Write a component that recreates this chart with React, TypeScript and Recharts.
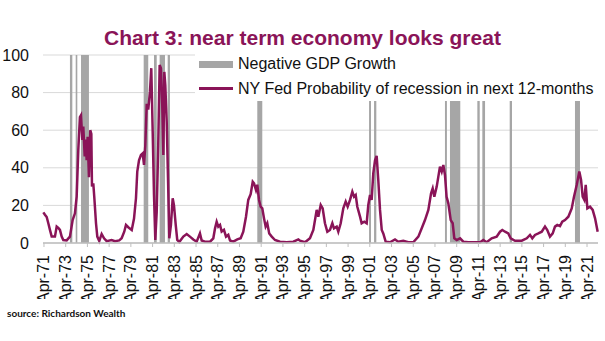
import React from "react";
import {
  ComposedChart,
  Line,
  XAxis,
  YAxis,
  CartesianGrid,
  ReferenceArea,
  Legend,
} from "recharts";

// Decimal-year position of each reading (monthly data)
const dates: number[] = [
  1971.19, 1971.34, 1971.5, 1971.65, 1971.8, 1971.96, 1972.26, 1972.42, 1972.57, 1972.72,
  1972.88, 1973.03, 1973.34, 1973.64, 1973.89, 1974.1, 1974.26, 1974.41, 1974.56, 1974.66,
  1974.78, 1974.87, 1975.0, 1975.09, 1975.18, 1975.27, 1975.39, 1975.51, 1975.61, 1975.67,
  1975.79, 1975.88, 1976.04, 1976.16, 1976.34, 1976.56, 1976.78, 1977.02, 1977.48, 1977.79,
  1978.18, 1978.4, 1978.64, 1978.8, 1979.01, 1979.33, 1979.54, 1979.72, 1979.84, 1980.0,
  1980.18, 1980.34, 1980.46, 1980.58, 1980.71, 1980.85, 1981.01, 1981.13, 1981.26, 1981.38,
  1981.5, 1981.63, 1981.77, 1981.9, 1982.02, 1982.14, 1982.24, 1982.33, 1982.42, 1982.55,
  1982.67, 1982.79, 1982.94, 1983.1, 1983.22, 1983.38, 1983.52, 1983.71, 1984.08, 1984.39,
  1984.69, 1985.0, 1985.31, 1985.61, 1985.77, 1986.07, 1986.54, 1986.84, 1987.0, 1987.15,
  1987.3, 1987.46, 1987.61, 1987.82, 1988.01, 1988.22, 1988.38, 1988.68, 1989.05, 1989.36,
  1989.6, 1989.85, 1990.06, 1990.28, 1990.47, 1990.59, 1990.77, 1990.89, 1991.05, 1991.2,
  1991.35, 1991.51, 1991.66, 1991.81, 1991.99, 1992.22, 1992.52, 1992.98, 1993.6, 1994.21,
  1994.67, 1994.82, 1995.28, 1995.74, 1996.05, 1996.36, 1996.51, 1996.73, 1996.91, 1997.12,
  1997.34, 1997.58, 1997.8, 1997.95, 1998.2, 1998.35, 1998.57, 1998.81, 1999.03, 1999.21,
  1999.43, 1999.64, 1999.8, 1999.95, 2000.1, 2000.35, 2000.5, 2000.74, 2000.96, 2001.11,
  2001.27, 2001.42, 2001.57, 2001.73, 2001.88, 2002.03, 2002.19, 2002.35, 2002.49, 2002.71,
  2003.11, 2003.57, 2003.87, 2004.33, 2004.8, 2005.25, 2005.72, 2006.03, 2006.33, 2006.64,
  2006.89, 2007.04, 2007.19, 2007.41, 2007.56, 2007.71, 2007.87, 2008.02, 2008.17, 2008.32,
  2008.48, 2008.7, 2008.88, 2009.03, 2009.25, 2009.56, 2009.86, 2010.32, 2010.78, 2011.4,
  2011.7, 2012.01, 2012.47, 2012.93, 2013.24, 2013.45, 2013.7, 2014.0, 2014.22, 2014.62,
  2015.24, 2015.7, 2016.0, 2016.21, 2016.46, 2016.77, 2017.08, 2017.38, 2017.59, 2017.84,
  2018.09, 2018.3, 2018.51, 2018.76, 2018.97, 2019.22, 2019.53, 2019.84, 2020.05, 2020.3,
  2020.54, 2020.7, 2020.85, 2021.0, 2021.13, 2021.28, 2021.53, 2021.77, 2021.99, 2022.23,
];

// NY Fed probability of recession in next 12 months (%)
const probability: number[] = [
  16.3, 15, 13.8, 10.5, 7, 3.4, 3.4, 8.7, 8, 7,
  3.4, 1.6, 1.4, 3.4, 12.2, 15.8, 24.6, 49.5, 67, 68,
  54.8, 62, 46, 55, 44, 56.5, 35, 60, 58, 30,
  31.7, 24.6, 10.5, 3.4, 1, 4.8, 2.5, 1, 1.6, 1,
  1.4, 2.5, 6, 9.6, 8.4, 6.9, 13, 23.8, 38, 44,
  46.8, 47.7, 41.5, 52, 74, 71, 80.5, 93, 59, 25.5,
  1.6, 16.6, 52, 94.7, 93, 73.4, 46.8, 91, 84, 64.5,
  34.4, 2.5, 9.6, 23.8, 20, 9.6, 1.6, 0.5, 3.4, 4.8,
  3.4, 1.9, 0.7, 5.1, 1.3, 0.7, 0.7, 2.5, 7.8, 11.3,
  8.7, 9.6, 6.1, 7, 3.4, 4.3, 1.3, 0.7, 1.9, 2.5,
  6, 14, 22.9, 26, 32.6, 31.7, 28.2, 31, 22.9, 19.3,
  18.4, 13.1, 8.7, 10.5, 5.1, 3.4, 1.6, 0.7, 0.4, 0.7,
  1.9, 1.2, 0.4, 2.5, 6.9, 17.6, 14, 20.2, 18.4, 10.5,
  6, 6.9, 10.5, 7.8, 8.7, 6, 10.5, 18.4, 22, 19.3,
  22.9, 27.3, 24.6, 25.5, 19.3, 14, 10.5, 11.3, 10.5, 20.2,
  25.5, 22.9, 37, 44, 46.3, 33.5, 17.6, 6.9, 5.1, 0.7,
  0.4, 1.9, 0.7, 1.2, 0.4, 0.4, 3.4, 7.8, 12.2, 17.6,
  26.4, 29, 24.6, 30, 35.3, 40.6, 38, 41.5, 36.2, 24.6,
  21.1, 12.2, 10.5, 2.5, 1.6, 2.5, 0.7, 0.4, 0.4, 0.4,
  1.6, 0.4, 2.5, 3.4, 6, 6.9, 6, 5.1, 2.5, 1.2,
  1.2, 2.5, 4.3, 2.5, 4.3, 5.1, 6, 8.7, 6.9, 3.4,
  5.1, 8.7, 9.6, 9, 11.3, 12.2, 14, 18.4, 24.6, 30.9,
  38, 33.5, 24.6, 22.9, 30.9, 18.4, 19.3, 17.6, 13.1, 6,
];

// Negative GDP growth quarters (start / end, decimal years)
const gdpStart: number[] = [
  1973.64, 1974.17, 1974.66, 1980.43, 1981.38, 1981.9, 1982.64, 1990.89,
  2001.18, 2001.64, 2008.17, 2008.63, 2011.15, 2011.61, 2014.13, 2020.14,
];
const gdpEnd: number[] = [
  1973.86, 1974.32, 1975.39, 1980.85, 1981.63, 1982.39, 1982.85, 1991.35,
  2001.36, 2001.85, 2008.35, 2009.58, 2011.37, 2011.86, 2014.34, 2020.6,
];

const xTickYears: number[] = [
  1971.25, 1973.25, 1975.25, 1977.25, 1979.25, 1981.25, 1983.25, 1985.25, 1987.25,
  1989.25, 1991.25, 1993.25, 1995.25, 1997.25, 1999.25, 2001.25, 2003.25, 2005.25,
  2007.25, 2009.25, 2011.25, 2013.25, 2015.25, 2017.25, 2019.25, 2021.25,
];
const xTickLabels: string[] = [
  "Apr-71", "Apr-73", "Apr-75", "Apr-77", "Apr-79", "Apr-81", "Apr-83", "Apr-85", "Apr-87",
  "Apr-89", "Apr-91", "Apr-93", "Apr-95", "Apr-97", "Apr-99", "Apr-01", "Apr-03", "Apr-05",
  "Apr-07", "Apr-09", "Apr-11", "Apr-13", "Apr-15", "Apr-17", "Apr-19", "Apr-21",
];
const yTicks: number[] = [0, 20, 40, 60, 80, 100];

const TITLE = "Chart 3: near term economy looks great";
const SERIES_BAR = "Negative GDP Growth";
const SERIES_LINE = "NY Fed Probability of recession in next 12-months";
const SOURCE = "source: Richardson Wealth";

const LINE_COLOR = "#8A1458";
const BAR_COLOR = "#A6A6A6";
const FONT = "'Liberation Sans', Arial, sans-serif";

const rows = dates.map((t, i) => ({ t, p: probability[i] }));

const XTick = (props: any) => {
  const { x, y, payload } = props;
  const idx = xTickYears.findIndex((v) => Math.abs(v - payload.value) < 0.01);
  const label = idx >= 0 ? xTickLabels[idx] : "";
  const tx = x + 5.5;
  const ty = y + 6;
  const clipId = `xtick-clip-${idx}`;
  return (
    <g>
      <defs>
        <clipPath id={clipId}>
          <rect x={x - 12} y={ty - 4} width={24} height={48} />
        </clipPath>
      </defs>
      <g clipPath={`url(#${clipId})`}>
        <text
          x={tx}
          y={ty}
          transform={`rotate(-90, ${tx}, ${ty})`}
          textAnchor="end"
          fontSize={16}
          fontFamily={FONT}
          fill="#111"
        >
          {label}
        </text>
      </g>
    </g>
  );
};

const LegendBox = () => (
  <div
    style={{
      position: "relative",
      width: 410,
      height: 48,
      background: "#fff",
      fontFamily: FONT,
      fontSize: 16,
      color: "#111",
    }}
  >
    <div
      style={{
        position: "absolute",
        left: 4,
        top: 8,
        width: 34,
        height: 7,
        background: BAR_COLOR,
      }}
    />
    <span
      style={{
        position: "absolute",
        left: 43,
        top: 1.8,
        lineHeight: "18px",
        whiteSpace: "nowrap",
      }}
    >
      {SERIES_BAR}
    </span>
    <div
      style={{
        position: "absolute",
        left: 4,
        top: 34,
        width: 34,
        height: 3,
        background: LINE_COLOR,
      }}
    />
    <span
      style={{
        position: "absolute",
        left: 43,
        top: 26.5,
        lineHeight: "18px",
        whiteSpace: "nowrap",
      }}
    >
      {SERIES_LINE}
    </span>
  </div>
);

export default function App() {
  return (
    <div
      style={{
        position: "absolute",
        left: 0,
        top: 0,
        width: 605,
        height: 341,
        background: "#fff",
        fontFamily: FONT,
        overflow: "hidden",
      }}
    >
      <div
        style={{
          position: "absolute",
          left: 0,
          top: 25.7,
          width: 605,
          textAlign: "center",
          fontSize: 21,
          fontWeight: "bold",
          lineHeight: "24px",
          color: LINE_COLOR,
          whiteSpace: "nowrap",
        }}
      >
        {TITLE}
      </div>
      <ComposedChart
        width={605}
        height={341}
        data={rows}
        margin={{ top: 55, right: 7, bottom: 38, left: 0 }}
      >
        <CartesianGrid vertical={false} stroke="#D9D9D9" strokeWidth={1} />
        {gdpStart.map((s, i) => (
          <ReferenceArea
            key={i}
            x1={s}
            x2={gdpEnd[i]}
            y1={0}
            y2={100}
            fill={BAR_COLOR}
            fillOpacity={1}
            stroke="none"
          />
        ))}
        <XAxis
          dataKey="t"
          type="number"
          domain={[1971.16, 2022.26]}
          ticks={xTickYears}
          interval={0}
          height={60}
          tick={<XTick />}
          tickSize={4}
          stroke="#BFBFBF"
          axisLine={{ stroke: "#BFBFBF", strokeWidth: 1.5 }}
          tickLine={{ stroke: "#BFBFBF" }}
        />
        <YAxis
          domain={[0, 100]}
          ticks={yTicks}
          width={43}
          axisLine={false}
          tickLine={false}
          tickSize={0}
          tickMargin={14}
          tick={{ fontSize: 16, fill: "#111", fontFamily: FONT }}
        />
        <Line
          dataKey="p"
          type="linear"
          stroke={LINE_COLOR}
          strokeWidth={2.5}
          dot={false}
          isAnimationActive={false}
          name={SERIES_LINE}
        />
        <Legend
          layout="horizontal"
          verticalAlign="middle"
          align="center"
          content={<LegendBox />}
          wrapperStyle={{ left: 195, top: 53, width: 410, height: 48 }}
        />
      </ComposedChart>
      <div
        style={{
          position: "absolute",
          left: 7,
          top: 306,
          fontSize: 10,
          fontWeight: "bold",
          fontFamily: "Lato, 'Liberation Sans', sans-serif",
          color: "#111",
          lineHeight: "14px",
          whiteSpace: "nowrap",
        }}
      >
        {SOURCE}
      </div>
    </div>
  );
}
